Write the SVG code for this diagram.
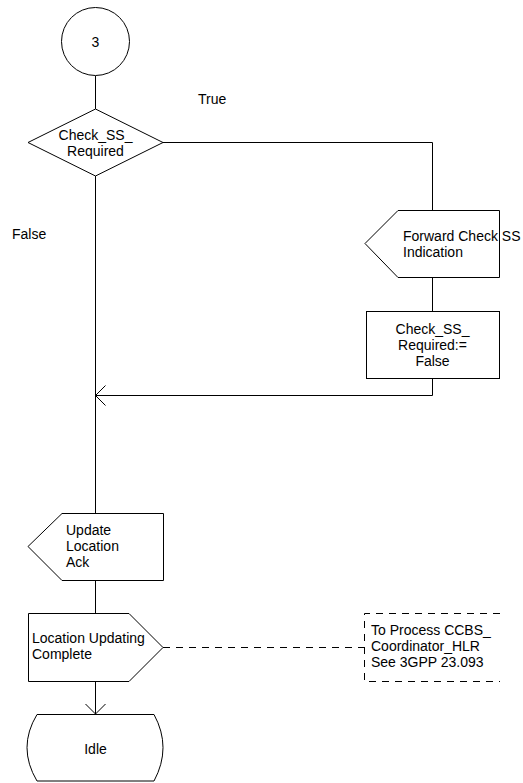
<svg xmlns="http://www.w3.org/2000/svg" width="523" height="783" viewBox="0 0 523 783">
<style>
.s{fill:#fff;stroke:#000;stroke-width:1}
.l{fill:none;stroke:#000;stroke-width:1}
.d{fill:none;stroke:#000;stroke-width:1;stroke-dasharray:7 6}
text{font-family:"Liberation Sans",Arial,sans-serif;font-size:14px;fill:#000}
.c{text-anchor:middle}
</style>
<defs>
<marker id="arr" markerUnits="userSpaceOnUse" markerWidth="22" markerHeight="22" refX="11" refY="11" orient="auto" viewBox="0 0 22 22">
<path d="M1,1 L11,11 L1,21" fill="none" stroke="#000" stroke-width="1"/>
</marker>
</defs>
<g id="connectors">
<line class="l" x1="95.5" y1="76" x2="95.5" y2="109"/>
<polyline class="l" points="163,142.5 432.5,142.5 432.5,210"/>
<line class="l" x1="432.5" y1="277" x2="432.5" y2="311"/>
<polyline class="l" points="432.5,378 432.5,395.5 95.5,395.5" marker-end="url(#arr)"/>
<line class="l" x1="95.5" y1="176" x2="95.5" y2="513"/>
<line class="l" x1="95.5" y1="580" x2="95.5" y2="613"/>
<line class="l" x1="95.5" y1="681" x2="95.5" y2="714" marker-end="url(#arr)"/>
<line class="d" x1="163" y1="647.5" x2="364.5" y2="647.5"/>
<text x="198" y="104">True</text>
<text x="12" y="239">False</text>
</g>
<g id="start3">
<circle class="s" cx="95.5" cy="41.5" r="34"/>
<text class="c" x="95.5" y="46.5">3</text>
</g>
<g id="decision">
<polygon class="s" points="28,142.5 95.5,109 163,142.5 95.5,176"/>
<text class="c" x="95.5" y="140">Check_SS_</text>
<text class="c" x="95.5" y="156">Required</text>
</g>
<g id="forwardCheckSS">
<polygon class="s" points="365,243.5 398,210.5 499.5,210.5 499.5,277.5 398,277.5"/>
<text x="403" y="241">Forward Check SS</text>
<text x="403" y="257">Indication</text>
</g>
<g id="taskCheckSS">
<rect class="s" x="366.5" y="311.5" width="133" height="67"/>
<text class="c" x="432.5" y="334">Check_SS_</text>
<text class="c" x="432.5" y="350">Required:=</text>
<text class="c" x="432.5" y="366">False</text>
</g>
<g id="updateLocationAck">
<polygon class="s" points="28,546.5 62,513.5 163.5,513.5 163.5,580.5 62,580.5"/>
<text x="66" y="535">Update</text>
<text x="66" y="551">Location</text>
<text x="66" y="567">Ack</text>
</g>
<g id="locationUpdatingComplete">
<polygon class="s" points="28.5,613.5 129,613.5 163,647.5 129,681.5 28.5,681.5"/>
<text x="32" y="643">Location Updating</text>
<text x="32" y="659">Complete</text>
</g>
<g id="comment">
<path class="d" d="M500,613.5 H364.5 V681.5 H500"/>
<text x="371" y="635">To Process CCBS_</text>
<text x="371" y="651">Coordinator_HLR</text>
<text x="371" y="667">See 3GPP 23.093</text>
</g>
<g id="idle">
<path class="s" d="M37,714.5 L154,714.5 Q172,747.5 154,781 L37,781 Q17,747.5 37,714.5 Z"/>
<text class="c" x="95.5" y="754">Idle</text>
</g>
</svg>
